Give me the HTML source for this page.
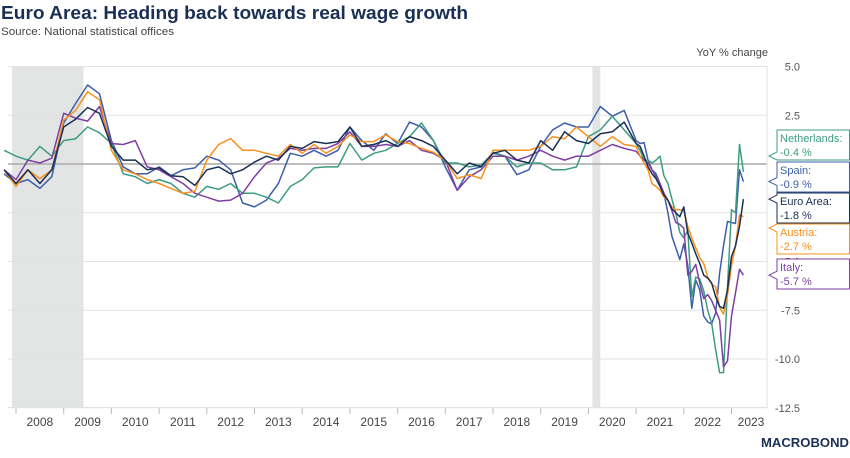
<!DOCTYPE html>
<html><head><meta charset="utf-8"><title>Euro Area real wage growth</title>
<style>
html,body{margin:0;padding:0;background:#fff;}
body{width:850px;height:453px;overflow:hidden;font-family:"Liberation Sans",sans-serif;}
svg text{font-family:"Liberation Sans",sans-serif;}
</style></head>
<body>
<svg id="chart" width="850" height="453" viewBox="0 0 850 453" xmlns="http://www.w3.org/2000/svg">
  <text x="1" y="19" font-size="18" font-weight="bold" fill="#1b2f55" textLength="467" lengthAdjust="spacingAndGlyphs">Euro Area: Heading back towards real wage growth</text>
  <text x="1" y="35" font-size="11" fill="#444" textLength="173" lengthAdjust="spacingAndGlyphs">Source: National statistical offices</text>
  <text x="768" y="56" font-size="11" fill="#444" text-anchor="end">YoY % change</text>
  <g id="shade"></g>
  <g id="grid"></g>
  <g id="series"></g>
  <g id="labels"></g>
  <g id="xaxis"></g>
  <g>
    <text x="849" y="447" font-size="13" font-weight="bold" fill="#1b2f55" text-anchor="end" textLength="88" lengthAdjust="spacingAndGlyphs">MACROBOND</text>
  </g>
</svg>
<script>
const dates = ["2007-10","2008-01","2008-04","2008-07","2008-10","2009-01","2009-04","2009-07","2009-10","2010-01","2010-04","2010-07","2010-10","2011-01","2011-04","2011-07","2011-10","2012-01","2012-04","2012-07","2012-10","2013-01","2013-04","2013-07","2013-10","2014-01",
"2014-04","2014-07","2014-10","2015-01","2015-04","2015-07","2015-10","2016-01","2016-04","2016-07","2016-10","2017-01","2017-04","2017-07","2017-10","2018-01","2018-04","2018-07","2018-10","2019-01","2019-04","2019-07","2019-10",
"2020-01","2020-04","2020-07","2020-10",
"2021-01","2021-02","2021-03","2021-04","2021-05","2021-06","2021-07","2021-08","2021-09","2021-10","2021-11","2021-12","2022-01","2022-02","2022-03","2022-04","2022-05","2022-06","2022-07","2022-08","2022-09","2022-10","2022-11","2022-12","2023-01","2023-02","2023-03","2023-04"];

const euroArea = [-0.3,-1.0,-0.3,-1.0,-0.3,1.9,2.3,2.9,2.6,0.9,0.2,0.2,-0.3,-0.2,-0.6,-0.65,-1.1,-0.3,-0.15,-0.5,-0.3,0.1,0.4,0.2,0.9,0.8,
1.15,1.05,1.15,1.9,0.9,1.0,1.2,0.9,1.4,1.2,0.9,0.2,-0.5,0.05,-0.15,0.55,0.7,0.2,0.05,1.2,0.7,1.65,1.2,
1.05,1.55,1.65,2.15,
1.05,0.9,0.4,-0.15,-0.5,-0.75,-1.15,-1.6,-1.85,-2.3,-2.5,-2.7,-2.2,-3.55,-4.05,-4.6,-5.1,-5.7,-5.85,-6.1,-6.8,-7.3,-7.4,-6.45,-4.75,-4.2,-3.2,-1.8];

const spain = [-0.5,-1.0,-0.8,-1.25,-0.65,2.1,3.1,4.05,3.6,1.2,-0.15,-0.5,-0.5,-0.15,-0.6,-0.3,-0.2,0.4,0.2,-0.3,-2.0,-2.2,-1.85,-1.0,0.55,0.4,
0.7,0.4,0.7,1.9,1.2,0.7,1.55,1.05,2.15,1.9,1.2,-0.15,-1.35,-0.3,-0.15,0.6,0.4,-0.55,-0.3,0.9,1.75,2.1,1.9,
1.9,2.95,2.45,2.75,
1.2,1.05,1.1,0.2,-0.3,-0.5,-1.0,-1.5,-2.5,-3.7,-4.3,-4.9,-4.1,-5.2,-7.4,-5.95,-6.45,-7.8,-8.1,-8.2,-7.65,-5.6,-4.2,-2.95,-3.0,-3.05,-0.3,-0.9];

const netherlands = [0.7,0.4,0.2,0.9,0.4,1.2,1.3,1.9,1.6,1.05,-0.5,-0.65,-1.0,-0.8,-1.0,-1.5,-1.7,-1.15,-1.3,-1.0,-1.5,-1.5,-1.7,-2.0,-1.15,-0.8,
-0.2,-0.15,-0.15,1.05,0.2,0.55,0.7,1.05,1.4,2.1,1.2,0.05,0.05,-0.15,-0.05,0.55,0.4,-0.15,0.05,0.05,-0.3,-0.3,-0.15,
1.4,1.75,2.45,1.75,
1.05,0.7,0.2,0.2,0.05,0.2,0.4,-0.6,-1.0,-1.8,-2.5,-3.5,-3.8,-3.4,-6.8,-5.8,-5.9,-6.5,-7.5,-8.15,-9.5,-10.7,-10.7,-6.3,-2.35,-2.5,1.0,-0.4];

const italy = [-0.3,-0.8,0.2,0.05,0.3,2.6,2.35,2.2,2.95,1.05,1.0,1.2,-0.15,-0.3,-0.65,-1.0,-1.5,-1.7,-1.9,-1.85,-1.5,-0.65,0.05,0.3,0.8,0.7,
0.8,0.8,1.05,1.65,0.9,0.9,1.0,0.9,1.2,0.7,0.55,0.2,-1.35,-0.65,-0.3,0.4,0.4,0.2,0.4,0.7,0.4,0.2,0.4,
0.4,0.7,1.0,0.8,
0.65,0.4,0.2,0.05,-0.3,-0.65,-1.0,-1.5,-1.85,-2.4,-3.0,-3.1,-3.3,-5.7,-5.5,-5.15,-6.1,-6.9,-6.7,-7.0,-7.5,-8.0,-10.4,-10.1,-7.8,-6.6,-5.4,-5.7];

const austria = [-0.3,-1.15,-0.3,-0.75,-0.3,2.25,2.75,3.7,3.3,0.7,-0.3,-0.5,-0.8,-1.0,-1.25,-1.5,-1.4,0.2,1.0,1.3,0.7,0.7,0.55,0.4,1.0,0.55,
1.0,0.55,0.9,1.5,1.15,1.15,1.5,1.15,1.05,0.8,0.6,0.2,-0.75,-0.55,-0.75,0.7,0.7,0.7,0.7,0.9,1.4,1.3,1.9,
1.4,0.9,1.4,1.0,
0.9,0.4,0.05,-0.3,-1.0,-1.15,-1.35,-1.7,-1.85,-2.2,-2.35,-2.35,-2.4,-3.2,-3.8,-4.3,-4.8,-5.1,-5.8,-6.15,-6.3,-7.35,-7.7,-6.7,-5.2,-4.2,-2.6,-2.7];

const yTicks = [5.0, 2.5, 0, -2.5, -5.0, -7.5, -10.0, -12.5];
const yTickLabels = ["5.0","2.5","","-2.5","-5.0","-7.5","-10.0","-12.5"];
const years = [2008,2009,2010,2011,2012,2013,2014,2015,2016,2017,2018,2019,2020,2021,2022,2023];
const recessions = [["2007-12","2009-06"],["2020-02","2020-04"]];
const seriesNames = ["Netherlands","Spain","Euro Area","Austria","Italy"];
const lastLabels = ["-0.4 %","-0.9 %","-1.8 %","-2.7 %","-5.7 %"];

const NS = "http://www.w3.org/2000/svg";
const X0 = 16, PXY = 47.7, PLOT_L = 8, PLOT_R = 767, Y0 = 164, PXV = 19.5;
function toYear(s){const p=s.split("-");return +p[0]+(+p[1]-1)/12;}
function xScale(s){return X0+(toYear(s)-2008)*PXY;}
function xYear(y){return X0+(y-2008)*PXY;}
function yScale(v){return Y0-v*PXV;}
function mk(tag,attrs,parent){const e=document.createElementNS(NS,tag);for(const k in attrs)e.setAttribute(k,attrs[k]);parent.appendChild(e);return e;}

const shadeG=document.getElementById("shade");
recessions.forEach(r=>{
  const x1=xScale(r[0]),x2=xScale(r[1]);
  const el=mk("rect",{x:x1,y:67,width:x2-x1,height:340,fill:"#e3e4e4"},shadeG);
  
  
});

const gridG=document.getElementById("grid");
yTicks.forEach((v,i)=>{
  const y=yScale(v);
  const ln=mk("line",{x1:PLOT_L,x2:PLOT_R,y1:y,y2:y,stroke:v===0?"#a9a9a9":"#e2e2e2","stroke-width":v===0?1.6:1},gridG);
  
  
  if(yTickLabels[i]){
    const t=mk("text",{x:800,y:y+4,"font-size":11,fill:"#555","text-anchor":"end"},gridG);
    t.textContent=yTickLabels[i];
    
    
  }
});
const rv=mk("line",{x1:PLOT_R,x2:PLOT_R,y1:66,y2:408,stroke:"#e2e2e2","stroke-width":1},gridG);



const xG=document.getElementById("xaxis");
const base=mk("line",{x1:PLOT_L,x2:PLOT_R,y1:407.5,y2:407.5,stroke:"#e2e2e2","stroke-width":1},xG);


years.forEach(yr=>{
  const x=xYear(yr);
  const tk=mk("line",{x1:x,x2:x,y1:408,y2:414,stroke:"#bbb","stroke-width":1},xG);
  
  
  const lx=yr===2023?Math.min(x+PXY/2,751):x+PXY/2;
  const t=mk("text",{x:lx,y:426,"font-size":12,fill:"#444","text-anchor":"middle"},xG);
  t.textContent=String(yr);
  
  
});

const colors=["#3d9c82","#3d5ea8","#1b2f55","#f7901e","#7e3fa3"];
const data=[netherlands,spain,euroArea,austria,italy];
const drawOrder=[1,0,4,3,2];
const sG=document.getElementById("series");
drawOrder.forEach(i=>{
  const pts=data[i].map((v,k)=>xScale(dates[k]).toFixed(1)+","+yScale(v).toFixed(1)).join(" ");
  const pl=mk("polyline",{points:pts,fill:"none",stroke:colors[i],"stroke-width":1.5,"stroke-linejoin":"round"},sG);
  
  
});

const lG=document.getElementById("labels");
const boxTops=[130,162,193,224,259];
seriesNames.forEach((n,i)=>{
  const top=boxTops[i], h=30, bx=777;
  const lastV=data[i][data[i].length-1];
  const py=Math.max(top+4,Math.min(top+h-4,yScale(lastV)));
  const g=mk("g",{},lG);
  
  
  mk("path",{d:`M${bx},${top} H849.5 V${top+h} H${bx} V${py+4} L${bx-8},${py} L${bx},${py-4} Z`,fill:"#fff",stroke:colors[i],"stroke-width":1},g);
  const t1=mk("text",{x:bx+3,y:top+12,"font-size":11,fill:colors[i]},g);
  t1.textContent=n+":";
  const t2=mk("text",{x:bx+3,y:top+26,"font-size":11,fill:colors[i]},g);
  t2.textContent=lastLabels[i];
});
</script>
</body></html>
